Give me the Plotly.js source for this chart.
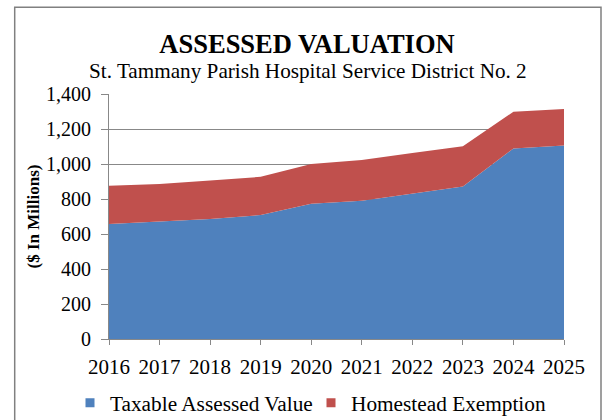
<!DOCTYPE html>
<html>
<head>
<meta charset="utf-8">
<script src="https://cdn.plot.ly/plotly-3.0.1.min.js"></script>
<style>
html,body{margin:0;padding:0;background:#fff;}
#chart{width:605px;height:420px;}
</style>
</head>
<body>
<div id="chart"></div>
<script>
var years = [2016, 2017, 2018, 2019, 2020, 2021, 2022, 2023, 2024, 2025];
var taxableAssessedValue = [657, 670, 686, 708, 773, 790, 830, 872, 1089, 1105];
var homesteadExemption = [219, 216, 219, 219, 227, 233, 233, 229, 210, 209];
var yTickVals = [0, 200, 400, 600, 800, 1000, 1200, 1400];
var yTickText = ["0", "200", "400", "600", "800", "1,000", "1,200", "1,400"];
var seriesNames = ["Taxable Assessed Value", "Homestead Exemption"];

var BLUE = "#4F81BD", RED = "#C0504D", GRID = "#888888";
var FONT = "Liberation Serif, Times New Roman, serif";

var traces = [
  {x: years, y: taxableAssessedValue, type: "scatter", mode: "lines", stackgroup: "one",
   line: {width: 0, color: BLUE}, fillcolor: BLUE, name: seriesNames[0], showlegend: false},
  {x: years, y: homesteadExemption, type: "scatter", mode: "lines", stackgroup: "one",
   line: {width: 0, color: RED}, fillcolor: RED, name: seriesNames[1], showlegend: false},
  {x: [null], y: [null], type: "scatter", mode: "markers", name: seriesNames[0],
   marker: {symbol: "square", size: 9, color: BLUE}, showlegend: true},
  {x: [null], y: [null], type: "scatter", mode: "markers", name: seriesNames[1],
   marker: {symbol: "square", size: 9, color: RED}, showlegend: true}
];

var layout = {
  width: 605, height: 420,
  margin: {l: 109, r: 41, t: 94, b: 81, autoexpand: false},
  paper_bgcolor: "#ffffff", plot_bgcolor: "#ffffff",
  font: {family: FONT, color: "#000000", size: 20},
  title: {
    text: "<b>ASSESSED VALUATION</b>",
    font: {family: FONT, size: 26.5, color: "#000"},
    x: 307/605, xref: "container", xanchor: "center",
    y: 1 - 43.5/420, yref: "container", yanchor: "middle"
  },
  annotations: [{
    text: "St. Tammany Parish Hospital Service District No. 2",
    xref: "paper", yref: "paper",
    x: (307.5 - 109) / 455, y: 1 + (94 - 71) / 245,
    xanchor: "center", yanchor: "middle", showarrow: false,
    font: {family: FONT, size: 21.2, color: "#000"}
  }],
  xaxis: {
    type: "linear", range: [2016, 2025], tickvals: years,
    ticks: "outside", ticklen: 5, tickcolor: GRID, tickwidth: 1,
    showline: true, linecolor: GRID, linewidth: 1,
    showgrid: false, zeroline: false, ticklabelstandoff: 4,
    tickfont: {family: FONT, size: 21, color: "#000"}, fixedrange: true
  },
  yaxis: {
    range: [0, 1400], tickvals: yTickVals, ticktext: yTickText,
    ticks: "outside", ticklen: 7, tickcolor: GRID, tickwidth: 1,
    showline: true, linecolor: GRID, linewidth: 1,
    showgrid: true, gridcolor: GRID, gridwidth: 1, zeroline: false,
    ticklabelstandoff: 6,
    tickfont: {family: FONT, size: 20, color: "#000"},
    title: {text: "<b>($ In Millions)</b>", font: {family: FONT, size: 17, color: "#000"}, standoff: 2},
    fixedrange: true
  },
  showlegend: true,
  legend: {
    orientation: "h", xref: "paper", yref: "paper", traceorder: "normal",
    x: (70 - 109) / 455, xanchor: "left", y: -(403 - 339) / 245, yanchor: "middle",
    font: {family: FONT, size: 21.3, color: "#000"},
    itemwidth: 30, entrywidth: 196, entrywidthmode: "pixels",
    bgcolor: "rgba(0,0,0,0)"
  },
  shapes: [{
    type: "rect", xref: "paper", yref: "paper",
    x0: (14.7 - 109) / 455, x1: (601 - 109) / 455,
    y0: -(430 - 339) / 245, y1: 1 + (94 - 7.3) / 245,
    line: {color: "#808080", width: 1.5}, fillcolor: "rgba(0,0,0,0)", layer: "above"
  }]
};

Plotly.newPlot("chart", traces, layout, {displayModeBar: false, staticPlot: true});
</script>
</body>
</html>
